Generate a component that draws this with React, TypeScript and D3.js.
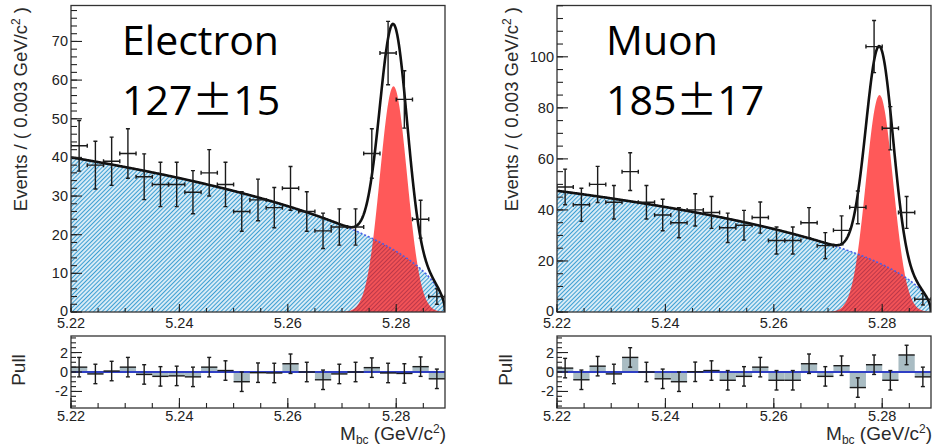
import React from 'react';
import * as d3 from 'd3';

// ---- data ----
const binCenters = [5.2215, 5.2245, 5.2275, 5.2305, 5.2335, 5.2365, 5.2395, 5.2425, 5.2455, 5.2485, 5.2515, 5.2545, 5.2575, 5.2605, 5.2635, 5.2665, 5.2695, 5.2725, 5.2755, 5.2785, 5.2815, 5.2845, 5.2875];
const BIN_WIDTH = 0.003;
const X_DOMAIN = [5.22, 5.289];

const electronCounts = [43, 38, 39, 41, 35, 33, 33, 31, 36, 33, 26, 29, 27, 32, 26, 21, 22, 22, 41, 67, 55, 24, 4];
const electronPulls = [0.5, -0.2, 0.1, 0.5, -0.25, -0.45, -0.4, -0.5, 0.5, 0.15, -1.0, -0.07, -0.1, 0.85, 0, -0.8, -0.2, 0, 0.45, -0.1, -0.15, 0.55, -0.7];

const muonCounts = [49, 42, 50, 43, 55, 43, 38, 35, 40, 39, 33, 34, 37, 28, 28, 35, 26, 32, 41, 104, 72, 39, 5];
const muonPulls = [0.4, -0.8, 0.6, -0.2, 1.5, 0, -0.7, -1.0, 0.02, 0.15, -0.85, -0.45, 0.5, -0.85, -0.85, 0.85, -0.45, 0.65, -1.6, 0.75, -0.85, 1.75, -0.5];

// fit parameters
const ARGUS_ENDPOINT = 5.289;
const ARGUS_SHAPE = -3;
const SIGNAL_MEAN = 5.2795;
const electronFit = { bkgAtStart: 40, sigPeak: 58.4, sigma: 0.0025 };
const muonFit = { bkgAtStart: 47.5, sigPeak: 85, sigma: 0.0025 };

const xMajorTicks = [5.22, 5.24, 5.26, 5.28];
const xTickLabels = ['5.22', '5.24', '5.26', '5.28'];
const electronYTicks = [0, 10, 20, 30, 40, 50, 60, 70];
const muonYTicks = [0, 20, 40, 60, 80, 100];
const pullYTicks = [-2, 0, 2];

// ---- layout ----
const FRAME_W = 374;
const MAIN_T = 5.5, MAIN_B = 312;
const PULL_T = 336, PULL_B = 408;
const PULL_RANGE = 3.7;

const FONT = '"Liberation Sans", Arial, Helvetica, sans-serif';
const BIG = '"Open Sans", "Noto Sans", sans-serif';

function argus(m: number) {
  if (m >= ARGUS_ENDPOINT) return 0;
  const r = 1 - (m / ARGUS_ENDPOINT) ** 2;
  return m * Math.sqrt(r) * Math.exp(ARGUS_SHAPE * r);
}

type PanelCfg = {
  key: string;
  left: number;
  counts: number[];
  pulls: number[];
  fit: { bkgAtStart: number; sigPeak: number; sigma: number };
  yMax: number;
  yTicks: number[];
  yMinorStep: number;
  name: string;
  yieldVal: string;
  yieldErr: string;
  titleX: number;
  yTitleX: number;
  pullTitleX: number;
};

function Panel({ c }: { c: PanelCfg }) {
  const L = c.left, R = c.left + FRAME_W;
  const x = d3.scaleLinear().domain(X_DOMAIN).range([L, R]);
  const y = d3.scaleLinear().domain([0, c.yMax]).range([MAIN_B, MAIN_T]);
  const yp = d3.scaleLinear().domain([-PULL_RANGE, PULL_RANGE]).range([PULL_B, PULL_T]);

  const a0 = argus(X_DOMAIN[0]);
  const bkg = (m: number) => (c.fit.bkgAtStart * argus(m)) / a0;
  const sig = (m: number) => c.fit.sigPeak * Math.exp(-0.5 * ((m - SIGNAL_MEAN) / c.fit.sigma) ** 2);
  const grid = d3.range(X_DOMAIN[0], X_DOMAIN[1], 0.0001).concat([X_DOMAIN[1]]);

  const bkgArea = d3.area<number>().x((m) => x(m)).y0(y(0)).y1((m) => y(bkg(m)))(grid) || '';
  const bkgLine = d3.line<number>().x((m) => x(m)).y((m) => y(bkg(m)))(grid) || '';
  const sigArea = d3.area<number>().x((m) => x(m)).y0(y(0)).y1((m) => y(sig(m)))(grid) || '';
  const totLine = d3.line<number>().x((m) => x(m)).y((m) => y(bkg(m) + sig(m)))(grid) || '';

  const xMinor = d3.range(X_DOMAIN[0], X_DOMAIN[1] + 1e-9, 0.005);
  const yMinor = d3.range(0, c.yMax, c.yMinorStep);
  const pMinor = d3.range(-3.5, 3.51, 0.5);
  const clipId = `clip-${c.key}`;
  const clipP = `clipp-${c.key}`;
  const ink = '#1b1b1b';
  const cap = 2;

  return (
    <g>
      <defs>
        <clipPath id={clipId}>
          <rect x={L} y={MAIN_T} width={FRAME_W} height={MAIN_B - MAIN_T} />
        </clipPath>
        <clipPath id={clipP}>
          <rect x={L} y={PULL_T} width={FRAME_W} height={PULL_B - PULL_T} />
        </clipPath>
      </defs>

      {/* main plot */}
      <g clipPath={`url(#${clipId})`}>
        <path d={bkgArea} fill="url(#hatch)" />
        <path d={sigArea} fill="#ff0000" fillOpacity={0.65} />
        <path d={bkgLine} fill="none" stroke="#4a5ee8" strokeWidth={1.6} strokeDasharray="2,2" />
        <path d={totLine} fill="none" stroke="#111" strokeWidth={2.6} />
        {c.counts.map((n, i) => {
          const cx = x(binCenters[i]);
          const x0 = x(binCenters[i] - BIN_WIDTH / 2), x1 = x(binCenters[i] + BIN_WIDTH / 2);
          const e = Math.sqrt(n);
          const yc = y(n), yt = y(n + e), yb = y(Math.max(0, n - e));
          return (
            <g key={i} stroke={ink} strokeWidth={1.4}>
              <line x1={x0} x2={x1} y1={yc} y2={yc} />
              <line x1={cx} x2={cx} y1={yt} y2={yb} />
              <line x1={cx - cap} x2={cx + cap} y1={yt} y2={yt} />
              <line x1={cx - cap} x2={cx + cap} y1={yb} y2={yb} />
              <line x1={x0} x2={x0} y1={yc - cap} y2={yc + cap} />
              <line x1={x1} x2={x1} y1={yc - cap} y2={yc + cap} />
            </g>
          );
        })}
      </g>
      <rect x={L} y={MAIN_T} width={FRAME_W} height={MAIN_B - MAIN_T} fill="none" stroke="#333" strokeWidth={1.3} />
      {/* y ticks main */}
      <g stroke="#222" strokeWidth={1.1}>
        {c.yTicks.map((t) => (
          <line key={'M' + t} x1={L} x2={L + 11} y1={y(t)} y2={y(t)} />
        ))}
        {yMinor.map((t) => (
          <line key={'m' + t} x1={L} x2={L + 6} y1={y(t)} y2={y(t)} />
        ))}
        {xMajorTicks.map((t) => (
          <line key={'X' + t} x1={x(t)} x2={x(t)} y1={MAIN_B} y2={MAIN_B - 8} />
        ))}
        {xMinor.map((t) => (
          <line key={'x' + t} x1={x(t)} x2={x(t)} y1={MAIN_B} y2={MAIN_B - 4} />
        ))}
      </g>
      <g fontFamily={FONT} fontSize={14.5} fill="#222">
        {c.yTicks.map((t) => (
          <text key={t} x={L - 3} y={y(t) + (t === 0 ? 3.5 : 5)} textAnchor="end">{t}</text>
        ))}
        {xMajorTicks.map((t, i) => (
          <text key={t} x={x(t)} y={327.5} textAnchor="middle">{xTickLabels[i]}</text>
        ))}
      </g>
      <text transform={`translate(${c.yTitleX},7) rotate(-90)`} textAnchor="end" fontFamily={FONT} fontSize={18.5} fill="#2a2a2a">
        Events / ( 0.003 GeV/c<tspan fontSize={12} dy={-7}>2</tspan><tspan dy={7}> )</tspan>
      </text>

      {/* big labels */}
      <text x={c.titleX} y={55} fontFamily={BIG} fontSize={41} fill="#000">{c.name}</text>
      <text x={c.titleX} y={115} fontFamily={BIG} fontSize={41} fill="#000">
        {c.yieldVal}
        <tspan fontFamily='"Noto Sans CJK JP", sans-serif'>±</tspan>
        {c.yieldErr}
      </text>

      {/* pull plot */}
      <g clipPath={`url(#${clipP})`}>
        {c.pulls.map((p, i) => {
          const x0 = x(binCenters[i] - BIN_WIDTH / 2), x1 = x(binCenters[i] + BIN_WIDTH / 2);
          return (
            <rect key={i} x={x0} width={x1 - x0} y={Math.min(yp(p), yp(0))} height={Math.abs(yp(p) - yp(0))} fill="#a9bcc3" />
          );
        })}
        <line x1={L} x2={R} y1={yp(0)} y2={yp(0)} stroke="#2f3fc4" strokeWidth={2} />
        {c.pulls.map((p, i) => {
          const cx = x(binCenters[i]);
          const x0 = x(binCenters[i] - BIN_WIDTH / 2), x1 = x(binCenters[i] + BIN_WIDTH / 2);
          const yc = yp(p), yt = yp(p + 1), yb = yp(p - 1);
          return (
            <g key={i} stroke={ink} strokeWidth={1.4}>
              <line x1={x0} x2={x1} y1={yc} y2={yc} />
              <line x1={cx} x2={cx} y1={yt} y2={yb} />
              <line x1={cx - cap} x2={cx + cap} y1={yt} y2={yt} />
              <line x1={cx - cap} x2={cx + cap} y1={yb} y2={yb} />
            </g>
          );
        })}
      </g>
      <rect x={L} y={PULL_T} width={FRAME_W} height={PULL_B - PULL_T} fill="none" stroke="#333" strokeWidth={1.3} />
      <g stroke="#222" strokeWidth={1.1}>
        {pullYTicks.map((t) => (
          <line key={'P' + t} x1={L} x2={L + 11} y1={yp(t)} y2={yp(t)} />
        ))}
        {pMinor.map((t) => (
          <line key={'p' + t} x1={L} x2={L + 5} y1={yp(t)} y2={yp(t)} />
        ))}
        {xMajorTicks.map((t) => (
          <line key={'X' + t} x1={x(t)} x2={x(t)} y1={PULL_B} y2={PULL_B - 10} />
        ))}
        {xMinor.map((t) => (
          <line key={'x' + t} x1={x(t)} x2={x(t)} y1={PULL_B} y2={PULL_B - 5} />
        ))}
      </g>
      <g fontFamily={FONT} fontSize={14.5} fill="#222">
        {pullYTicks.map((t) => (
          <text key={t} x={L - 3} y={yp(t) + 5} textAnchor="end">{t}</text>
        ))}
        {xMajorTicks.map((t, i) => (
          <text key={t} x={x(t)} y={420.5} textAnchor="middle">{xTickLabels[i]}</text>
        ))}
      </g>
      <text transform={`translate(${c.pullTitleX},370) rotate(-90)`} textAnchor="middle" fontFamily={FONT} fontSize={19} fill="#2a2a2a">Pull</text>
      <text x={R + 1} y={439.5} textAnchor="end" fontFamily={FONT} fontSize={19} fill="#2a2a2a">
        M<tspan fontSize={12} dy={4}>bc</tspan><tspan dy={-4}> (GeV/c</tspan><tspan fontSize={12} dy={-7}>2</tspan><tspan dy={7}>)</tspan>
      </text>
    </g>
  );
}

const panels: PanelCfg[] = [
  {
    key: 'e', left: 71, counts: electronCounts, pulls: electronPulls, fit: electronFit,
    yMax: 79.3, yTicks: electronYTicks, yMinorStep: 2,
    name: 'Electron', yieldVal: '127', yieldErr: '15', titleX: 122, yTitleX: 27, pullTitleX: 25,
  },
  {
    key: 'm', left: 557, counts: muonCounts, pulls: muonPulls, fit: muonFit,
    yMax: 120.1, yTicks: muonYTicks, yMinorStep: 5,
    name: 'Muon', yieldVal: '185', yieldErr: '17', titleX: 606, yTitleX: 517.5, pullTitleX: 512,
  },
];

export default function App() {
  return (
    <svg width={942} height={448} style={{ position: 'absolute', left: 0, top: 0, background: '#fff' }}>
      <defs>
        <pattern id="hatch" patternUnits="userSpaceOnUse" width={3} height={3} patternTransform="rotate(45)">
          <rect width={3} height={3} fill="#fff" />
          <line x1={1.5} y1={-1} x2={1.5} y2={4} stroke="#3d9fd3" strokeWidth={1.4} />
        </pattern>
      </defs>
      <rect width={942} height={448} fill="#fff" />
      {panels.map((p) => (
        <Panel key={p.key} c={p} />
      ))}
    </svg>
  );
}
